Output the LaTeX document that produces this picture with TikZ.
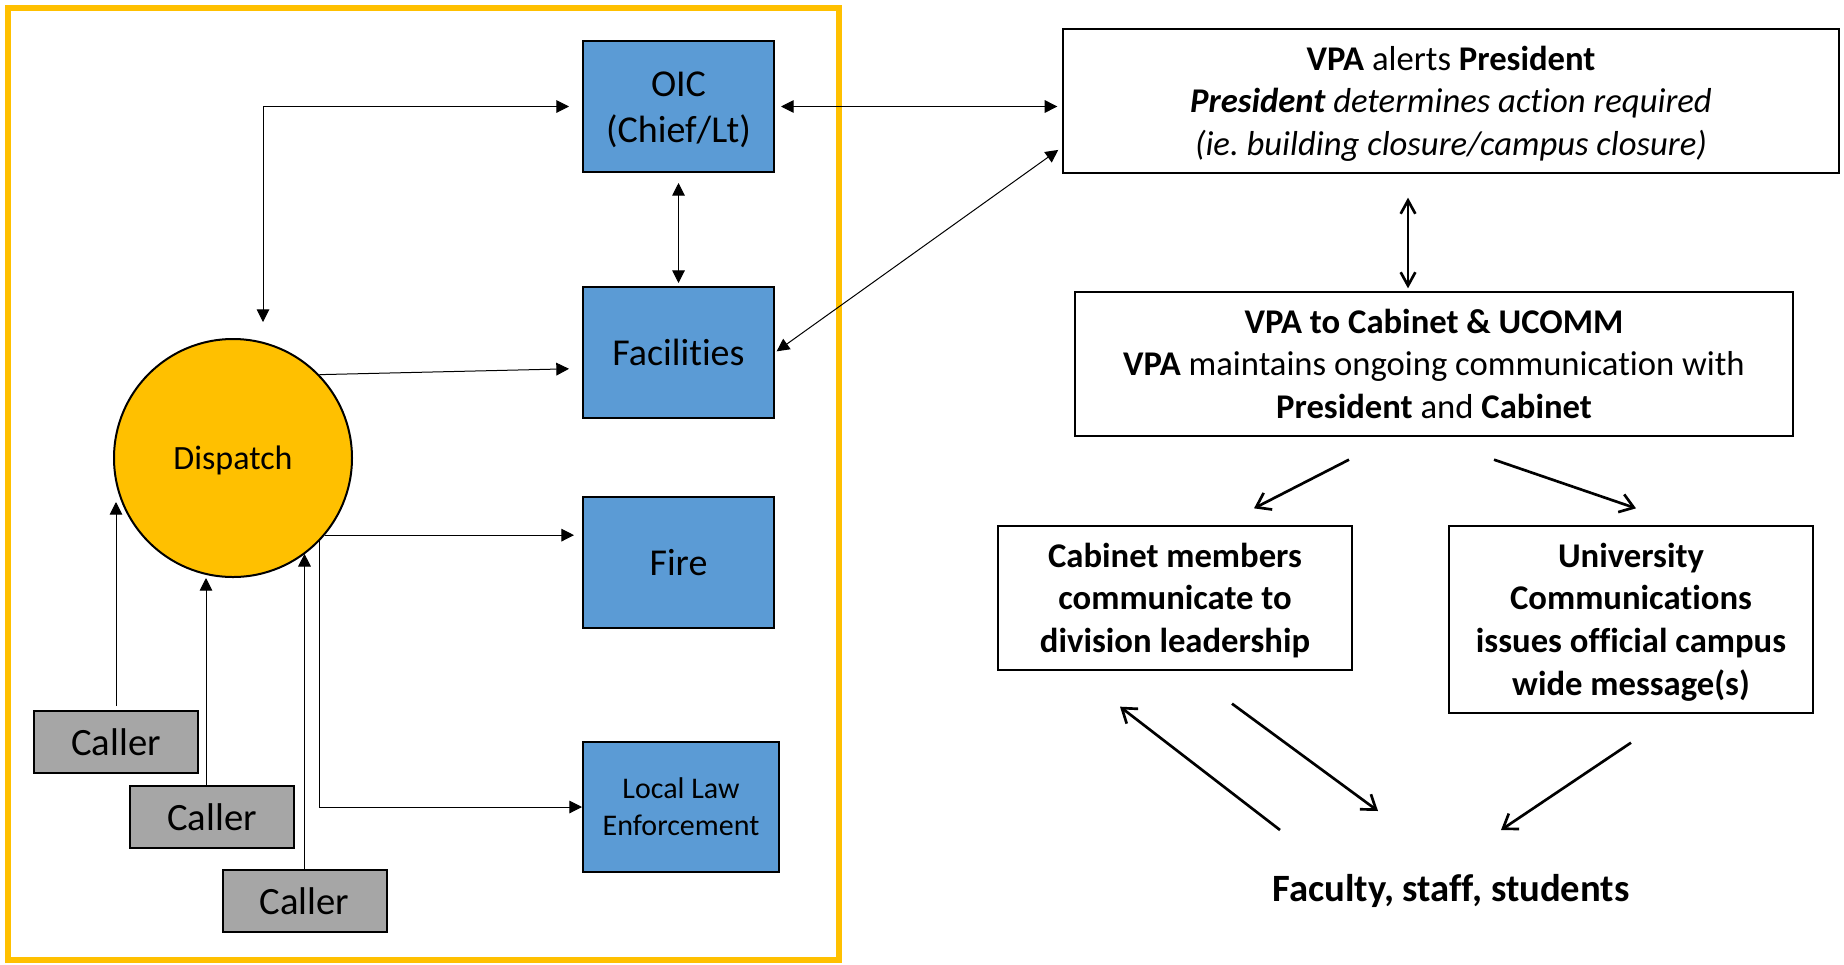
\documentclass[tikz,border=0pt]{standalone}
\usepackage{fontspec}
\setmainfont{Carlito}[Ligatures=NoCommon]
\usetikzlibrary{arrows.meta,calc}

\definecolor{unitblue}{RGB}{91,155,213}
\definecolor{dispatchgold}{RGB}{255,192,0}
\definecolor{callergrey}{RGB}{166,166,166}

% first line of a text block gets the full line ascent
\newcommand{\ftop}{\rule{0pt}{0.95em}}

\tikzset{every picture/.style={line width=0.75pt}}
\tikzset{
  linestrut/.style={execute at begin node={\rule{0pt}{0.95em}},execute at end node={\rule[-0.27em]{0pt}{0.27em}}},
  unitbox/.style={linestrut,draw=black,fill=unitblue,line width=1.5pt,minimum width=143.25pt,minimum height=98.25pt,inner sep=0pt,align=center,font=\fontsize{28.5}{35}\selectfont},
  callerbox/.style={linestrut,draw=black,fill=callergrey,line width=1.5pt,minimum width=123pt,minimum height=46.5pt,inner sep=0pt,font=\fontsize{29}{35}\selectfont},
  msgbox/.style={linestrut,draw=black,line width=1pt,inner sep=0pt,align=center,font=\fontsize{26}{32}\selectfont},
  boldmsg/.style={msgbox,font=\fontsize{26}{32}\selectfont\bfseries},
  thinarrow/.style={line width=0.75pt,-{Triangle[length=9.5pt,width=9.5pt]}},
  thinboth/.style={line width=0.75pt,{Triangle[length=9.5pt,width=9.5pt]}-{Triangle[length=9.5pt,width=9.5pt]}},
  openarrow/.style={line width=2pt,-{Straight Barb[length=10pt,width=14pt]}},
  openboth/.style={line width=2pt,{Straight Barb[length=10pt,width=11pt]}-{Straight Barb[length=10pt,width=11pt]}}
}

\begin{document}
\begin{tikzpicture}[x=0.75pt,y=0.75pt,yscale=-1,xscale=1]
\useasboundingbox (0,0) rectangle (1844,964);

%Shape: Rectangle (campus police frame)
\draw [color=dispatchgold,line width=4.5pt] (7.5,7.5) rectangle (839,960) ;

%Shape: Circle
\draw (233,458) node [linestrut,circle,draw=black,fill=dispatchgold,line width=1.5pt,minimum size=178.5pt,inner sep=0pt,font=\fontsize{25.5}{30}\selectfont] (dispatch) {Dispatch};

%Shape: Rectangle
\draw (678.5,106.5) node [unitbox] (oic) {\ftop OIC\\(Chief/Lt)};
%Shape: Rectangle
\draw (678.5,352.5) node [unitbox] (fac) {Facilities};
%Shape: Rectangle
\draw (678.5,562.5) node [unitbox] (fire) {Fire};
%Shape: Rectangle
\draw (681,807) node [unitbox,minimum width=147pt,minimum height=97.5pt,font=\fontsize{22.5}{28}\selectfont] (lle) {\ftop Local Law\\Enforcement};

%Shape: Rectangle
\draw (116,742) node [callerbox] (caller1) {Caller};
%Shape: Rectangle
\draw (212,817) node [callerbox] (caller2) {Caller};
%Shape: Rectangle
\draw (304.5,901) node [callerbox] (caller3) {Caller};

%Shape: Rectangle
\draw (1451,101) node [msgbox,minimum width=582pt,minimum height=108pt] (vpa) {\ftop\textbf{VPA} alerts \textbf{President}\\\textit{\textbf{President} determines action required}\\\textit{(ie.\ building closure/campus closure)}};
%Shape: Rectangle
\draw (1434,364) node [msgbox,minimum width=538.5pt,minimum height=108pt] (cab) {\ftop\textbf{VPA to Cabinet \& UCOMM}\\\textbf{VPA} maintains ongoing communication with\\\textbf{President} and \textbf{Cabinet}};
%Shape: Rectangle
\draw (1175,598) node [boldmsg,minimum width=265.5pt,minimum height=108pt] (mem) {\ftop Cabinet members\\communicate to\\division leadership};
%Shape: Rectangle
\draw (1631,619.5) node [boldmsg,minimum width=273pt,minimum height=140.25pt] (univ) {\ftop University\\Communications\\issues official campus\\wide message(s)};

% Text Node
\draw (1451,888) node [linestrut,inner sep=0pt,font=\fontsize{29}{35}\selectfont\bfseries] (fss) {Faculty, staff, students};

\coordinate (c2top) at ($(caller2.north)+(-6,0)$);
\coordinate (vtop) at ($(vpa.south)+(-43,0)$);

%Straight Lines
\draw [thinboth,shorten <=12pt,shorten >=9.75pt] ($(dispatch.north)+(30,0)$) |- (oic.west) ;
%Straight Lines
\draw [thinboth,shorten <=7.5pt,shorten >=2.25pt] (oic.south) -- (fac.north) ;
%Straight Lines
\draw [thinarrow,shorten >=9.75pt] (dispatch.44) -- ($(fac.west)+(0,16)$) ;
%Straight Lines
\draw [thinarrow,shorten >=6pt] (dispatch.-40) -- (dispatch.-40 -| fire.west) ;
%Straight Lines
\draw [thinarrow] (dispatch.-44) |- (lle.west) ;
%Straight Lines
\draw [thinarrow,shorten <=3pt,shorten >=33pt] (caller1.north) -- (caller1.north |- dispatch.center) ;
%Straight Lines
\draw [thinarrow] (c2top) -- (c2top |- dispatch.south) ;
%Straight Lines
\draw [thinarrow] (caller3.north) -- (caller3.north |- dispatch.-53) ;

%Straight Lines
\draw [thinboth,shorten <=4.5pt,shorten >=3.75pt] (oic.east) -- (oic.east -| vpa.west) ;
%Straight Lines
\draw [thinboth,shorten <=3.75pt,shorten >=1.5pt] ($(vpa.west)+(0,46)$) -- (fac.east) ;
%Straight Lines
\draw [openboth,shorten <=18pt,shorten >=2.25pt] (vtop) -- (vtop |- cab.north) ;
%Straight Lines
\draw [openarrow] ($(cab.south)+(-85,23)$) -- ($(mem.north)+(79,-17)$) ;
%Straight Lines
\draw [openarrow] ($(cab.south)+(60,23)$) -- ($(univ.north)+(5,-17)$) ;
%Straight Lines
\draw [openarrow] ($(fss.center)+(-171,-58)$) -- ($(mem.south)+(-55,36)$) ;
%Straight Lines
\draw [openarrow] ($(mem.south)+(57,33)$) -- ($(fss.center)+(-73,-77)$) ;
%Straight Lines
\draw [openarrow] ($(univ.south)+(0,29)$) -- ($(fss.center)+(50,-58)$) ;

\end{tikzpicture}
\end{document}
